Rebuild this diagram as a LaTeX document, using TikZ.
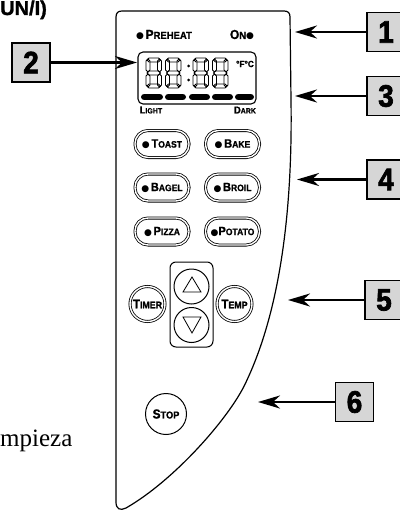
\documentclass[tikz,border=0pt]{standalone}
\usepackage{fontspec}
\setmainfont{Liberation Serif}
\newfontfamily\cf[FakeStretch=0.92, FakeBold=1.2]{Liberation Sans}
\newfontfamily\nf[FakeStretch=0.9, FakeBold=2.2]{Liberation Sans}
\newfontfamily\hvb[FakeBold=1.5]{Liberation Sans}
\newfontfamily\djv{DejaVu Sans}
\usetikzlibrary{arrows.meta}
\definecolor{boxgray}{RGB}{214,214,214}
\newcommand\tsc[4]{{\fontsize{#1}{#1}\selectfont #3}{\fontsize{#2}{#2}\selectfont #4}}
\newcommand\bdot{{\djv\fontsize{9}{9}\selectfont ●}}
\newcommand\hseg[3]{\draw[seg] (#1,#2) -- ++(2,-2) -- ++({#3-4},0) -- ++(2,2) -- ++(-2,2) -- ++({-(#3-4)},0) -- cycle;}
\newcommand\vseg[3]{\draw[seg] (#1,#2) -- ++(2,2) -- ++(0,{#3-4}) -- ++(-2,2) -- ++(-2,-2) -- ++(0,{-(#3-4)}) -- cycle;}
\newcommand\segdigit[2]{%
 \hseg{#1+1}{#2+2}{13.5}
 \hseg{#1+1}{#2+15}{13.5}
 \hseg{#1+1}{#2+28}{13.5}
 \vseg{#1+2}{#2+1}{13}
 \vseg{#1+2}{#2+16}{13}
 \vseg{#1+13.5}{#2+1}{13}
 \vseg{#1+13.5}{#2+16}{13}}
\tikzset{
 panel/.style={line width=1.2pt},
 seg/.style={line width=0.8pt},
 btn/.style={draw, double, double distance=1.4pt, line width=0.8pt, rounded corners=13pt, minimum width=54pt, minimum height=27pt, inner sep=0pt, font=\cf\bfseries},
 rbtn/.style={draw, circle, double, double distance=1.4pt, line width=0.8pt, minimum size=35pt, inner sep=0pt, font=\cf\bfseries},
 numbox/.style={draw, fill=boxgray, line width=1.3pt, minimum width=38pt, minimum height=39pt, inner sep=0pt, font=\nf\bfseries\fontsize{31}{31}\selectfont},
 arr/.style={line width=2.4pt, -{Stealth[length=22pt, width=13pt, inset=7pt]}},
 lbl/.style={inner sep=0pt, font=\cf\bfseries},
}
\begin{document}
\begin{tikzpicture}[x=1pt, y=-1pt]
\useasboundingbox (0,0) rectangle (399,511);
% partial texts
\node[anchor=base west, inner sep=0pt, font=\hvb\bfseries\fontsize{20}{20}\selectfont] (hdr) at (0,15) {UN/I)};
\node[anchor=base west, inner sep=0pt, font=\fontsize{25}{25}\selectfont] (limp) at (0,446) {mpieza};
% panel outline
\draw[panel] (116,17) .. controls (116,13) and (118,11) .. (122,11) -- (284,11)
  .. controls (288,11) and (290,13) .. (290,17) -- (291,100)
  .. controls (293,230) and (275,320) .. (247,380)
  .. controls (232,415) and (175,480) .. (126,508)
  .. controls (120,511) and (116,509) .. (116,502) -- cycle;
% top indicators
\node[lbl] (preheat) at (164,35) {\bdot\,\tsc{13}{10.3}{P}{REHEAT}};
\node[lbl] (on) at (242,35) {\tsc{13}{10.3}{O}{N}\bdot};
% display
\draw[line width=1.1pt, rounded corners=5pt] (138,52) rectangle (256,104);
\segdigit{146}{58}
\segdigit{165.5}{58}
\segdigit{193}{58}
\segdigit{212.5}{58}
\fill (188.5,66) circle (1.5);
\fill (188.5,80) circle (1.5);
\node[lbl, font=\cf\bfseries\fontsize{9}{9}\selectfont] (deg) at (245,64) {°F°C};
\foreach \a/\b in {141/163,165/186,189/210,212/233,235/254}
  \draw[line width=6.5pt, line cap=round] (\a+3.25,97) -- (\b-3.25,97);
\node[lbl] (light) at (151,110) {\tsc{10}{7.6}{L}{IGHT}};
\node[lbl] (dark) at (245,110) {\tsc{10}{7.6}{D}{ARK}};
% program buttons
\node[btn] (toast) at (162,144) {\bdot\,\tsc{12}{9.3}{T}{OAST}};
\node[btn] (bake) at (232.5,144) {\bdot\,\tsc{12}{9.3}{B}{AKE}};
\node[btn] (bagel) at (162,187.5) {\bdot\,\tsc{12}{9.3}{B}{AGEL}};
\node[btn] (broil) at (232.5,187.5) {\bdot\,\tsc{12}{9.3}{B}{ROIL}};
\node[btn] (pizza) at (162,231.5) {\bdot\,\tsc{12}{9.3}{P}{IZZA}};
\node[btn] (potato) at (232.5,231.5) {\bdot\tsc{12}{9.3}{P}{OTATO}};
% timer / temp
\node[rbtn] (timer) at (147.5,304) {\tsc{12.5}{9.6}{T}{IMER}};
\node[rbtn] (temp) at (234.5,304) {\tsc{12.5}{9.6}{T}{EMP}};
\draw[line width=1pt, rounded corners=6pt] (170,262) rectangle (213,347);
\node[draw, circle, line width=1pt, minimum size=35pt, inner sep=0pt] (up) at (191.5,286.5) {};
\node[draw, circle, line width=1pt, minimum size=35pt, inner sep=0pt] (down) at (191.5,325) {};
\draw[line width=0.8pt] (183,292) -- (192,277) -- (201,292) -- cycle;
\draw[line width=0.8pt] (183,317) -- (192,333) -- (201,317) -- cycle;
% stop
\node[draw, circle, line width=1pt, minimum size=41pt, inner sep=0pt, font=\cf\bfseries] (stop) at (166,414) {\tsc{13}{10}{S}{TOP}};
% number boxes
\node[numbox] (b1) at (386,32) {1};
\node[numbox] (b2) at (31,62.5) {2};
\node[numbox] (b3) at (386,96) {3};
\node[numbox] (b4) at (386,179.5) {4};
\node[numbox] (b5) at (384,300) {5};
\node[numbox] (b6) at (354.5,402) {6};
\coordinate (t1) at (295,32);
\coordinate (t2) at (137,62.5);
\coordinate (t3) at (295,96);
\coordinate (t4) at (297,179.5);
\coordinate (t5) at (288,300);
\coordinate (t6) at (258,402);
\draw[arr] (b1.west) -- (t1);
\draw[arr] (b2.east) -- (t2);
\draw[arr] (b3.west) -- (t3);
\draw[arr] (b4.west) -- (t4);
\draw[arr] (b5.west) -- (t5);
\draw[arr] (b6.west) -- (t6);
\end{tikzpicture}
\end{document}
